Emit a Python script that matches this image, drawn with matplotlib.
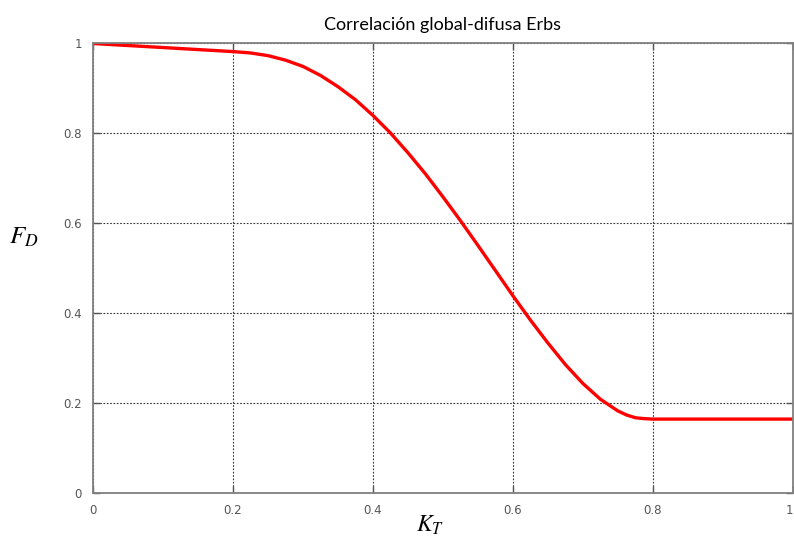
import matplotlib
matplotlib.use('Agg')
import matplotlib.pyplot as plt

# Índice de claridad K_T y fracción difusa F_D (correlación de Erbs)
kt = [0.0, 0.05, 0.10, 0.15, 0.20, 0.225, 0.25, 0.275, 0.30, 0.325, 0.35,
      0.375, 0.40, 0.425, 0.45, 0.475, 0.50, 0.525, 0.55, 0.575, 0.60,
      0.625, 0.65, 0.675, 0.70, 0.725, 0.75, 0.7625, 0.775, 0.7875, 0.80,
      0.85, 0.90, 0.95, 1.0]
fd = [1.000, 0.9955, 0.991, 0.9865, 0.982, 0.979, 0.973, 0.963, 0.949,
      0.929, 0.904, 0.875, 0.840, 0.801, 0.757, 0.710, 0.659, 0.606,
      0.551, 0.495, 0.439, 0.385, 0.334, 0.286, 0.244, 0.209, 0.183,
      0.174, 0.168, 0.166, 0.165, 0.165, 0.165, 0.165, 0.165]

xticks = [0, 0.2, 0.4, 0.6, 0.8, 1]
xticklabels = ['0', '0.2', '0.4', '0.6', '0.8', '1']
yticks = [0, 0.2, 0.4, 0.6, 0.8, 1]
yticklabels = ['0', '0.2', '0.4', '0.6', '0.8', '1']

plt.rcParams['mathtext.fontset'] = 'stix'

fig = plt.figure(figsize=(7.94, 5.43), dpi=100)
ax = fig.add_axes([0.1171, 0.0915, 0.8816, 0.8284])

ax.plot(kt, fd, color='#ff0000', lw=2.4, solid_capstyle='round',
        solid_joinstyle='round')

ax.set_xlim(0, 1)
ax.set_ylim(0, 1)
ax.set_xticks(xticks)
ax.set_xticklabels(xticklabels)
ax.set_yticks(yticks)
ax.set_yticklabels(yticklabels)
ax.tick_params(direction='in', length=5, width=1, color='#555555',
               labelcolor='#555555', labelsize=8.5, pad=8, top=True,
               right=True)
# la última etiqueta queda pegada al borde derecho
ax.get_xticklabels()[-1].set_horizontalalignment('right')
ax.grid(True, linestyle=(0, (1.5, 1.5)), color='#333333', lw=0.8)
for s in ax.spines.values():
    s.set_color('#808080')
    s.set_linewidth(1.3)

ax.set_title('Correlación global-difusa Erbs', fontsize=13,
             family='Lato', pad=10)
ax.set_xlabel(r'$K_T$', fontsize=17, va='center')
ax.xaxis.set_label_coords(0.481, -0.07)
ax.set_ylabel(r'$F_D$', fontsize=18, rotation=0, va='center', ha='center')
ax.yaxis.set_label_coords(-0.099, 0.57)

fig.savefig('out.png', dpi=100)
